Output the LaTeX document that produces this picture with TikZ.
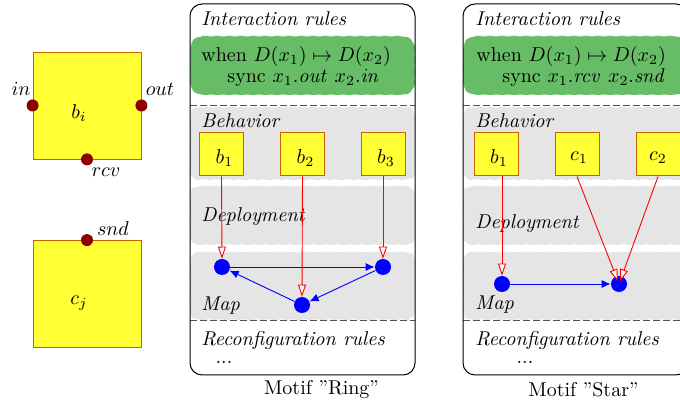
\documentclass[tikz,border=0pt]{standalone}
\usetikzlibrary{arrows.meta}
\definecolor{boxyellow}{RGB}{255,255,51}
\definecolor{boxedge}{RGB}{200,100,0}
\definecolor{portred}{RGB}{139,0,0}
\definecolor{rulegreen}{RGB}{102,189,102}
\definecolor{zonegray}{RGB}{229,229,229}
\definecolor{sepgray}{RGB}{80,80,80}
\begin{document}
\begin{tikzpicture}[x=0.5pt,y=-0.5pt,
  bigcomp/.style={draw=boxedge, fill=boxyellow, minimum width=54pt, minimum height=53.5pt, inner sep=0pt, line width=0.4pt},
  smallcomp/.style={draw=boxedge, fill=boxyellow, minimum width=22pt, minimum height=21.5pt, inner sep=0pt, line width=0.5pt},
  port/.style={circle, fill=portred, minimum size=6pt, inner sep=0pt},
  mapdot/.style={circle, fill=blue, minimum size=8pt, inner sep=0pt},
  deploy/.style={draw=red, line width=0.45pt, -{Triangle[open, length=6pt, width=4pt, fill=white]}},
  link/.style={draw=blue, line width=0.45pt, -{Latex[length=4.5pt, width=4pt]}},
  zone/.style={fill=zonegray, draw=white, dashed, line width=0.5pt, rounded corners=4pt},
  rulebox/.style={fill=rulegreen, draw=white, dashed, line width=0.4pt, rounded corners=6pt},
  panel/.style={draw=black, line width=0.5pt, rounded corners=6pt},
  sep/.style={draw=sepgray, dash pattern=on 3.5pt off 1.5pt, line width=0.5pt},
  lab/.style={anchor=west, inner sep=0pt, font=\itshape},
  plain/.style={anchor=west, inner sep=0pt},
  ellip/.style={inner sep=0pt}
]
\clip (0,0) rectangle (680,405);
\fill[white] (0,0) rectangle (680,405);

% ---------- left: component types ----------
\node[bigcomp] (bi) at (87,105.5) {};
\node at ([xshift=-4pt,yshift=-3.75pt]bi.center) {$b_i$};
\node[port] (pin) at (bi.west) {};
\node[port] (pout) at (bi.east) {};
\node[port] (prcv) at (bi.south) {};
\node at (21,89) {$in$};
\node at (160,89) {$out$};
\node at (106,172) {$rcv$};

\node[bigcomp] (cj) at (87,294) {};
\node at ([xshift=-4pt,yshift=-4.5pt]cj.center) {$c_j$};
\node[port] (psnd) at (cj.north) {};
\node at (113,229) {$snd$};

% ---------- panels ----------
\foreach \xa/\xb in {190/415, 463/688} {
  \fill[white, rounded corners=6pt] (\xa,4) rectangle (\xb,375);
  \path[rulebox] (\xa,36) rectangle (\xb,95);
  \path[zone] (\xa,107) rectangle (\xb,180);
  \path[zone] (\xa,186) rectangle (\xb,245);
  \path[zone] (\xa,252) rectangle (\xb,320);
  \draw[sep] (\xa,106) -- (\xb,106);
  \draw[sep] (\xa,321) -- (\xb,321);
  \draw[panel] (\xa,4) rectangle (\xb,375);
}

% ---------- Ring ----------
\node[lab] (r-int) at (201,19) {Interaction rules};
\node[plain] (r-when) at (201,57) {when $D(x_1)\mapsto D(x_2)$};
\node[plain] (r-sync) at (227,78) {sync $x_1.\mathit{out}\ x_2.\mathit{in}$};
\node[lab] (r-beh) at (201,121) {Behavior};
\node[lab] (r-dep) at (201,217) {Deployment};
\node[lab] (r-map) at (201,306) {Map};
\node[lab] (r-rec) at (201,341) {Reconfiguration rules};
\node[ellip] (r-dots) at (224,362) {...};
\node (r-motif) at (321.5,390) {Motif ''Ring''};

\node[smallcomp] (rb1) at (221.5,154.5) {};
\node[smallcomp] (rb2) at (302.5,154.5) {};
\node[smallcomp] (rb3) at (383,154.5) {};
\node at ([xshift=1.5pt,yshift=-1.75pt]rb1.center) {$b_1$};
\node at ([xshift=1.5pt,yshift=-1.75pt]rb2.center) {$b_2$};
\node at ([xshift=1.5pt,yshift=-1.75pt]rb3.center) {$b_3$};

\node[mapdot] (rl) at (222,267) {};
\node[mapdot] (rr) at (383,267) {};
\node[mapdot] (rbm) at (302,305) {};

\draw[deploy] (rb1.south) -- (rl.north);
\draw[deploy] (rb2.south) -- (rbm.north);
\draw[deploy] (rb3.south) -- (rr.north);
\draw[link] (rl) -- (rr);
\draw[link] (rr) -- (rbm);
\draw[link] (rbm) -- (rl);

% ---------- Star ----------
\node[lab] (s-int) at (475,19) {Interaction rules};
\node[plain] (s-when) at (476,57) {when $D(x_1)\mapsto D(x_2)$};
\node[plain] (s-sync) at (502,78) {sync $x_1.\mathit{rcv}\ x_2.\mathit{snd}$};
\node[lab] (s-beh) at (475,121) {Behavior};
\node[lab] (s-dep) at (475,224) {Deployment};
\node[lab] (s-map) at (475,305) {Map};
\node[lab] (s-rec) at (475,341) {Reconfiguration rules};
\node[ellip] (s-dots) at (525,362) {...};
\node (s-motif) at (583.5,390) {Motif ''Star''};

\node[smallcomp] (sb1) at (496,154.5) {};
\node[smallcomp] (sc1) at (577,154.5) {};
\node[smallcomp] (sc2) at (658,154.5) {};
\node at ([xshift=1.5pt,yshift=-1.75pt]sb1.center) {$b_1$};
\node at ([xshift=1pt,yshift=-1.75pt]sc1.center) {$c_1$};
\node at ([xshift=0pt,yshift=-1.75pt]sc2.center) {$c_2$};

\node[mapdot] (sl) at (502,284) {};
\node[mapdot] (sr) at (619,284) {};

\draw[deploy] (sb1.south -| sl.north) -- (sl.north);
\draw[deploy, shorten >=1.5pt] (sc1.south) -- (sr.center);
\draw[deploy, shorten >=1.5pt] (sc2.south) -- (sr.center);
\draw[link] (sl) -- (sr);
\end{tikzpicture}
\end{document}
